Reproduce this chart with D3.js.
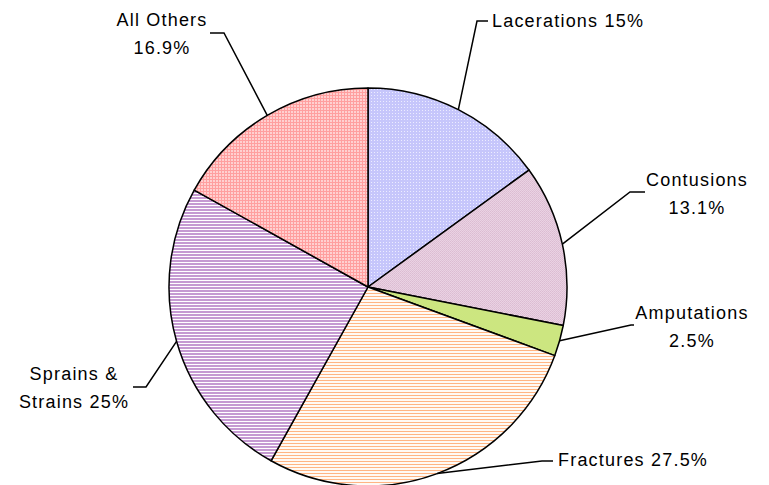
<!DOCTYPE html>
<meta charset="utf-8">
<style>
body { margin: 0; background: #fff; }
svg { display: block; }
.labels text {
  font-family: "Liberation Sans", Arial, sans-serif;
  font-size: 18px;
  letter-spacing: 1.2px;
  fill: #000;
}
.leaders polyline {
  fill: none;
  stroke: #000;
  stroke-width: 1.5px;
}
</style>
<svg width="769" height="485"></svg>
<script src="https://d3js.org/d3.v7.min.js"></script>
<script>

// data, clockwise from 12 o'clock
var categories = ["Lacerations", "Contusions", "Amputations", "Fractures", "Sprains & Strains", "All Others"];
var values = [15, 13.1, 2.5, 27.5, 25, 16.9];
var labelLines = [
  ["Lacerations 15%"],
  ["Contusions", "13.1%"],
  ["Amputations", "2.5%"],
  ["Fractures 27.5%"],
  ["Sprains &", "Strains 25%"],
  ["All Others", "16.9%"]
];

// label placement (Excel-style, hand placed)
var labelPos = [
  {x: 492, y: 27, anchor: "start", elbow: [[477, 21], [488, 21]]},
  {x: 697, y: 186, anchor: "middle", elbow: [[630, 192], [645, 192]]},
  {x: 692, y: 319, anchor: "middle", elbow: [[631, 325], [634, 325]]},
  {x: 558, y: 466, anchor: "start", elbow: [[542, 461], [553, 461]]},
  {x: 74, y: 380, anchor: "middle", elbow: [[146, 387], [133, 387]]},
  {x: 162, y: 26, anchor: "middle", elbow: [[224, 33], [210, 33]]}
];

var svg = d3.select("svg"),
    cx = 368, cy = 287, radius = 199;

var defs = svg.append("defs");

function tilePattern(id, w, h, bg, rects) {
  var p = defs.append("pattern")
      .attr("id", id)
      .attr("patternUnits", "userSpaceOnUse")
      .attr("width", w).attr("height", h);
  p.append("rect").attr("width", w).attr("height", h).attr("fill", bg);
  rects.forEach(function(r) {
    p.append("rect").attr("x", r[0]).attr("y", r[1])
      .attr("width", r[2]).attr("height", r[3]).attr("fill", r[4]);
  });
}

tilePattern("p0", 3, 3, "#c6c6fb", [[0, 0, 1, 1, "#ececff"]]);
tilePattern("p1", 2, 2, "#ead2e3", [[0, 0, 1, 1, "#dcbcd2"], [1, 1, 1, 1, "#dfc2d6"]]);
tilePattern("p2", 2, 2, "#cce680", []);
tilePattern("p3", 3, 3, "#fffaf5", [[0, 0, 3, 1, "#ffb584"]]);
tilePattern("p4", 3, 3, "#ffffff", [[0, 0, 3, 2, "#c59ad2"]]);
tilePattern("p5", 3, 3, "#ff9f9f", [[1, 1, 2, 2, "#ffd0d0"]]);

var pie = d3.pie().sort(null).value(function(d) { return d; });
var arcs = pie(values);

var arc = d3.arc().innerRadius(0).outerRadius(radius);
var edge = d3.arc().innerRadius(radius).outerRadius(radius);

var g = svg.append("g").attr("transform", "translate(" + cx + "," + cy + ")");

g.selectAll("path")
  .data(arcs)
  .enter().append("path")
    .attr("d", arc)
    .attr("fill", function(d, i) { return "url(#p" + i + ")"; })
    .attr("stroke", "#000")
    .attr("stroke-width", 1.5)
    .attr("stroke-linejoin", "round");

// leader lines
svg.append("g").attr("class", "leaders")
  .selectAll("polyline")
  .data(arcs)
  .enter().append("polyline")
    .attr("points", function(d, i) {
      var c = edge.centroid(d);
      var p0 = [cx + c[0], cy + c[1]];
      var e = labelPos[i].elbow;
      return [p0, e[0], e[1]].map(function(p) { return p.join(","); }).join(" ");
    });

// labels
var lab = svg.append("g").attr("class", "labels")
  .selectAll("text")
  .data(labelLines)
  .enter().append("text")
    .attr("x", function(d, i) { return labelPos[i].x; })
    .attr("y", function(d, i) { return labelPos[i].y; })
    .attr("text-anchor", function(d, i) { return labelPos[i].anchor; });

lab.each(function(lines, i) {
  var t = d3.select(this);
  lines.forEach(function(s, k) {
    t.append("tspan")
      .attr("x", labelPos[i].x)
      .attr("dy", k === 0 ? 0 : 27.5)
      .text(s);
  });
});

</script>
